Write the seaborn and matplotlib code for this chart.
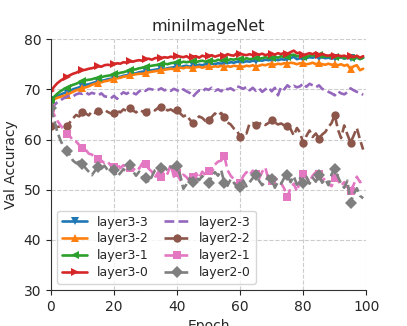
import numpy as np
import pandas as pd
import matplotlib
matplotlib.use('Agg')
import matplotlib.pyplot as plt
import seaborn as sns

# epochs and validation accuracy per layer
epochs = list(range(100))

layer3_3 = [67.8, 68.2, 68.6, 68.9, 69.2, 69.4, 69.7, 70.0, 70.2, 70.4,
            70.7, 70.9, 71.0, 71.2, 71.4, 71.6, 71.7, 71.8, 72.0, 72.1,
            72.2, 72.4, 72.5, 72.7, 72.8, 73.0, 73.1, 73.2, 73.4, 73.5,
            73.6, 73.7, 73.8, 73.9, 74.0, 74.1, 74.0, 74.2, 74.3, 74.4,
            74.5, 74.4, 74.6, 74.7, 74.5, 74.8, 74.7, 74.9, 74.8, 75.0,
            74.9, 75.1, 75.0, 75.2, 75.1, 75.3, 75.2, 75.4, 75.3, 75.5,
            75.5, 75.4, 75.6, 75.5, 75.7, 75.6, 75.8, 75.7, 75.9, 75.8,
            75.9, 76.0, 75.8, 76.0, 75.9, 76.1, 76.2, 76.5, 76.0, 76.2,
            76.0, 76.2, 76.4, 76.3, 76.5, 76.3, 76.4, 76.2, 76.3, 76.1,
            76.3, 76.2, 76.4, 76.1, 76.3, 76.2, 76.0, 76.3, 76.1, 76.3]

layer3_2 = [67.8, 68.0, 68.3, 68.5, 68.7, 68.8, 69.2, 69.5, 69.8, 70.0,
            70.2, 70.4, 70.6, 70.9, 71.1, 71.3, 71.4, 71.6, 71.7, 71.9,
            72.0, 72.2, 72.3, 72.5, 72.6, 72.8, 72.9, 73.0, 73.1, 73.1,
            73.2, 73.4, 73.5, 73.6, 73.7, 73.8, 73.9, 74.0, 74.1, 74.0,
            74.2, 74.3, 74.2, 74.4, 74.3, 74.2, 74.4, 74.5, 74.3, 74.5,
            74.6, 74.4, 74.6, 74.5, 74.7, 74.4, 74.6, 74.5, 74.7, 74.6,
            74.6, 74.5, 74.7, 74.6, 74.8, 74.5, 74.7, 74.9, 74.8, 75.0,
            75.1, 74.9, 75.1, 75.0, 75.2, 75.1, 75.3, 75.2, 75.0, 75.2,
            75.2, 75.0, 75.1, 75.3, 75.0, 75.2, 75.0, 74.9, 75.1, 74.9,
            75.0, 74.8, 75.0, 74.7, 74.9, 74.0, 74.6, 74.8, 73.8, 74.1]

layer3_1 = [67.7, 68.5, 69.1, 69.6, 70.0, 70.3, 70.6, 70.9, 71.1, 71.4,
            71.6, 71.8, 71.9, 72.0, 72.2, 72.3, 72.4, 72.6, 72.7, 72.8,
            73.0, 73.1, 73.3, 73.4, 73.6, 73.8, 73.9, 74.0, 74.2, 74.3,
            74.5, 74.6, 74.7, 74.8, 74.9, 75.0, 75.1, 75.0, 75.2, 75.3,
            75.4, 75.3, 75.5, 75.4, 75.5, 75.6, 75.4, 75.6, 75.7, 75.5,
            75.7, 75.8, 75.6, 75.9, 75.7, 75.9, 75.8, 76.0, 75.9, 76.1,
            76.0, 75.9, 76.2, 76.0, 76.1, 76.3, 76.1, 76.2, 76.4, 76.2,
            76.3, 76.5, 76.3, 76.6, 76.4, 76.5, 76.8, 76.9, 76.6, 76.7,
            76.5, 76.4, 76.7, 76.8, 76.6, 76.9, 76.7, 76.5, 76.6, 76.4,
            76.5, 76.3, 76.5, 76.2, 76.4, 76.3, 76.1, 76.4, 76.0, 76.3]

layer3_0 = [69.6, 70.5, 71.2, 71.7, 72.1, 72.5, 72.8, 73.1, 73.3, 73.6,
            73.8, 73.9, 74.1, 74.2, 74.4, 74.6, 74.5, 74.8, 74.9, 74.8,
            75.0, 75.2, 75.1, 75.4, 75.3, 75.6, 75.5, 75.7, 75.8, 75.7,
            76.0, 76.1, 75.9, 76.2, 76.3, 76.2, 76.4, 76.3, 76.5, 76.4,
            76.6, 76.5, 76.4, 76.6, 76.2, 76.5, 76.6, 76.3, 76.7, 76.5,
            76.6, 76.8, 76.5, 76.7, 76.9, 76.6, 77.0, 76.8, 76.7, 77.2,
            77.1, 76.9, 76.8, 77.0, 76.8, 77.0, 76.9, 77.1, 76.8, 77.0,
            77.1, 76.9, 77.2, 77.0, 77.3, 77.1, 77.4, 77.7, 77.2, 77.3,
            76.8, 77.0, 77.2, 77.0, 77.3, 76.9, 77.1, 76.8, 76.7, 76.9,
            76.6, 76.8, 76.6, 76.7, 76.5, 76.6, 76.4, 76.7, 76.3, 76.6]

layer2_3 = [66.0, 66.8, 67.4, 67.8, 68.2, 68.5, 68.8, 68.6, 69.0, 69.2,
            69.1, 69.4, 69.0, 69.3, 69.1, 68.8, 69.2, 68.6, 68.5, 68.2,
            68.7, 68.1, 68.9, 69.4, 69.1, 69.5, 69.3, 69.0, 69.6, 70.0,
            69.7, 70.1, 70.0, 69.8, 69.9, 70.2, 69.8, 70.0, 69.7, 70.1,
            69.8, 69.5, 70.0, 69.6, 69.3, 68.5, 69.2, 69.8, 69.5, 70.1,
            69.9, 70.3, 69.7, 70.0, 69.6, 70.3, 70.0, 70.2, 69.8, 70.6,
            70.4, 70.1, 70.5, 69.8, 70.3, 69.7, 70.2, 69.5, 70.0, 70.4,
            69.6, 70.3, 68.8, 70.5, 70.0, 70.8, 70.3, 70.7, 70.4, 70.6,
            71.2, 70.5, 71.1, 70.8, 70.4, 70.8, 70.1, 69.8, 69.5, 69.2,
            68.8, 69.6, 69.2, 69.0, 69.4, 70.2, 69.8, 69.5, 69.3, 68.9]

layer2_2 = [62.7, 62.9, 62.5, 62.6, 62.3, 62.6, 63.4, 64.2, 64.9, 64.6,
            65.5, 65.2, 64.8, 65.6, 65.3, 65.7, 65.4, 65.9, 65.5, 65.2,
            65.3, 65.8, 65.4, 66.0, 65.7, 66.2, 65.8, 65.4, 65.9, 65.6,
            65.5, 65.9, 66.1, 65.8, 66.3, 66.5, 66.2, 65.8, 66.0, 65.6,
            65.8, 65.2, 64.6, 64.9, 64.0, 63.3, 63.9, 64.6, 64.3, 63.7,
            63.9, 64.5, 65.2, 64.7, 65.3, 64.5, 63.4, 63.0, 62.2, 61.8,
            60.5, 61.4, 61.2, 63.2, 63.3, 62.9, 63.1, 63.4, 62.9, 63.3,
            63.9, 63.4, 63.0, 63.2, 62.8, 62.7, 62.1, 60.8, 62.3, 61.4,
            59.3, 60.7, 61.8, 60.5, 61.2, 60.2, 61.0, 61.5, 62.5, 63.3,
            64.9, 62.0, 60.3, 62.8, 61.0, 59.4, 60.8, 62.3, 60.0, 58.0]

layer2_1 = [66.3, 65.0, 63.8, 62.9, 62.0, 61.2, 60.7, 59.8, 59.6, 58.9,
            58.3, 58.0, 57.2, 57.0, 56.4, 56.1, 55.8, 55.3, 55.6, 54.8,
            54.6, 55.2, 54.3, 54.9, 54.1, 54.4, 53.8, 54.6, 54.2, 55.3,
            55.1, 54.2, 53.6, 52.4, 53.5, 52.6, 54.5, 53.2, 55.0, 52.6,
            53.4, 51.9, 53.0, 52.5, 51.7, 52.6, 53.3, 52.3, 53.6, 52.9,
            53.8, 53.4, 55.0, 55.6, 55.8, 56.7, 53.9, 52.8, 52.1, 50.6,
            51.4, 52.7, 53.5, 52.9, 53.8, 53.1, 52.2, 53.6, 54.4, 52.0,
            51.8, 52.5, 51.6, 51.3, 50.2, 48.6, 50.3, 51.2, 49.7, 51.8,
            53.1, 52.4, 51.6, 52.8, 53.5, 53.1, 51.7, 52.4, 51.2, 50.7,
            52.4, 51.9, 50.8, 51.5, 50.3, 49.8, 51.0, 52.6, 51.5, 51.8]

layer2_0 = [66.3, 64.0, 61.6, 59.9, 58.6, 57.8, 56.9, 55.8, 55.3, 55.6,
            55.2, 54.3, 53.6, 52.9, 53.8, 54.6, 54.2, 54.8, 53.9, 54.4,
            53.9, 52.6, 53.3, 54.1, 53.5, 54.9, 53.7, 52.8, 53.6, 52.5,
            52.3, 51.5, 52.6, 53.9, 54.3, 54.4, 54.5, 53.8, 54.6, 54.3,
            54.7, 52.9, 50.2, 51.1, 52.3, 51.6, 52.5, 51.9, 52.7, 52.0,
            51.3, 52.6, 53.5, 52.8, 53.9, 51.3, 50.8, 52.1, 51.4, 50.6,
            50.5, 51.8, 50.7, 51.5, 52.3, 52.9, 51.8, 50.9, 51.7, 52.8,
            52.1, 50.4, 51.6, 51.2, 52.4, 52.9, 51.5, 52.7, 51.0, 52.3,
            51.3, 52.6, 51.2, 52.4, 51.6, 52.9, 51.4, 52.1, 50.9, 53.1,
            54.2, 52.6, 51.2, 50.4, 51.8, 47.4, 49.1, 50.3, 48.8, 48.3]

names = ['layer3-3', 'layer3-2', 'layer3-1', 'layer3-0',
         'layer2-3', 'layer2-2', 'layer2-1', 'layer2-0']
series = [layer3_3, layer3_2, layer3_1, layer3_0,
          layer2_3, layer2_2, layer2_1, layer2_0]
markers = ['v', '^', '<', '>', None, 'o', 's', 'D']
styles = ['-', '-', '-', '-', '--', '--', '--', '--']
colors = sns.color_palette('tab10', 8)

sns.set_style('ticks')
plt.rcParams['font.family'] = ['DejaVu Sans']

fig, ax = plt.subplots(figsize=(4.07, 3.26), dpi=100)
fig.subplots_adjust(left=0.125, right=0.9, top=0.88, bottom=0.11)

for name, vals, m, ls, c in zip(names, series, markers, styles, colors):
    sns.lineplot(x=epochs, y=vals, ax=ax, color=c, marker=m, linestyle=ls,
                 markevery=5, markersize=6, markeredgewidth=0,
                 linewidth=1.9, label=name)

ax.set_xlim(0, 100)
ax.set_ylim(30, 80)
ax.set_xticks([0, 20, 40, 60, 80, 100])
ax.set_yticks([30, 40, 50, 60, 70, 80])
ax.grid(True, linestyle='--', color='#cccccc', linewidth=0.8)
ax.tick_params(labelsize=10)
ax.set_xlabel('Epoch', fontsize=10)
ax.set_ylabel('Val Accuracy', fontsize=10)
ax.set_title('miniImageNet', fontsize=11.5)
sns.despine(ax=ax)
for s in ['left', 'bottom']:
    ax.spines[s].set_color('#333333')

ax.legend(ncol=2, loc='lower left', fontsize=9, handlelength=2,
          columnspacing=1.2, labelspacing=0.3)

fig.savefig('out.png', dpi=100)
